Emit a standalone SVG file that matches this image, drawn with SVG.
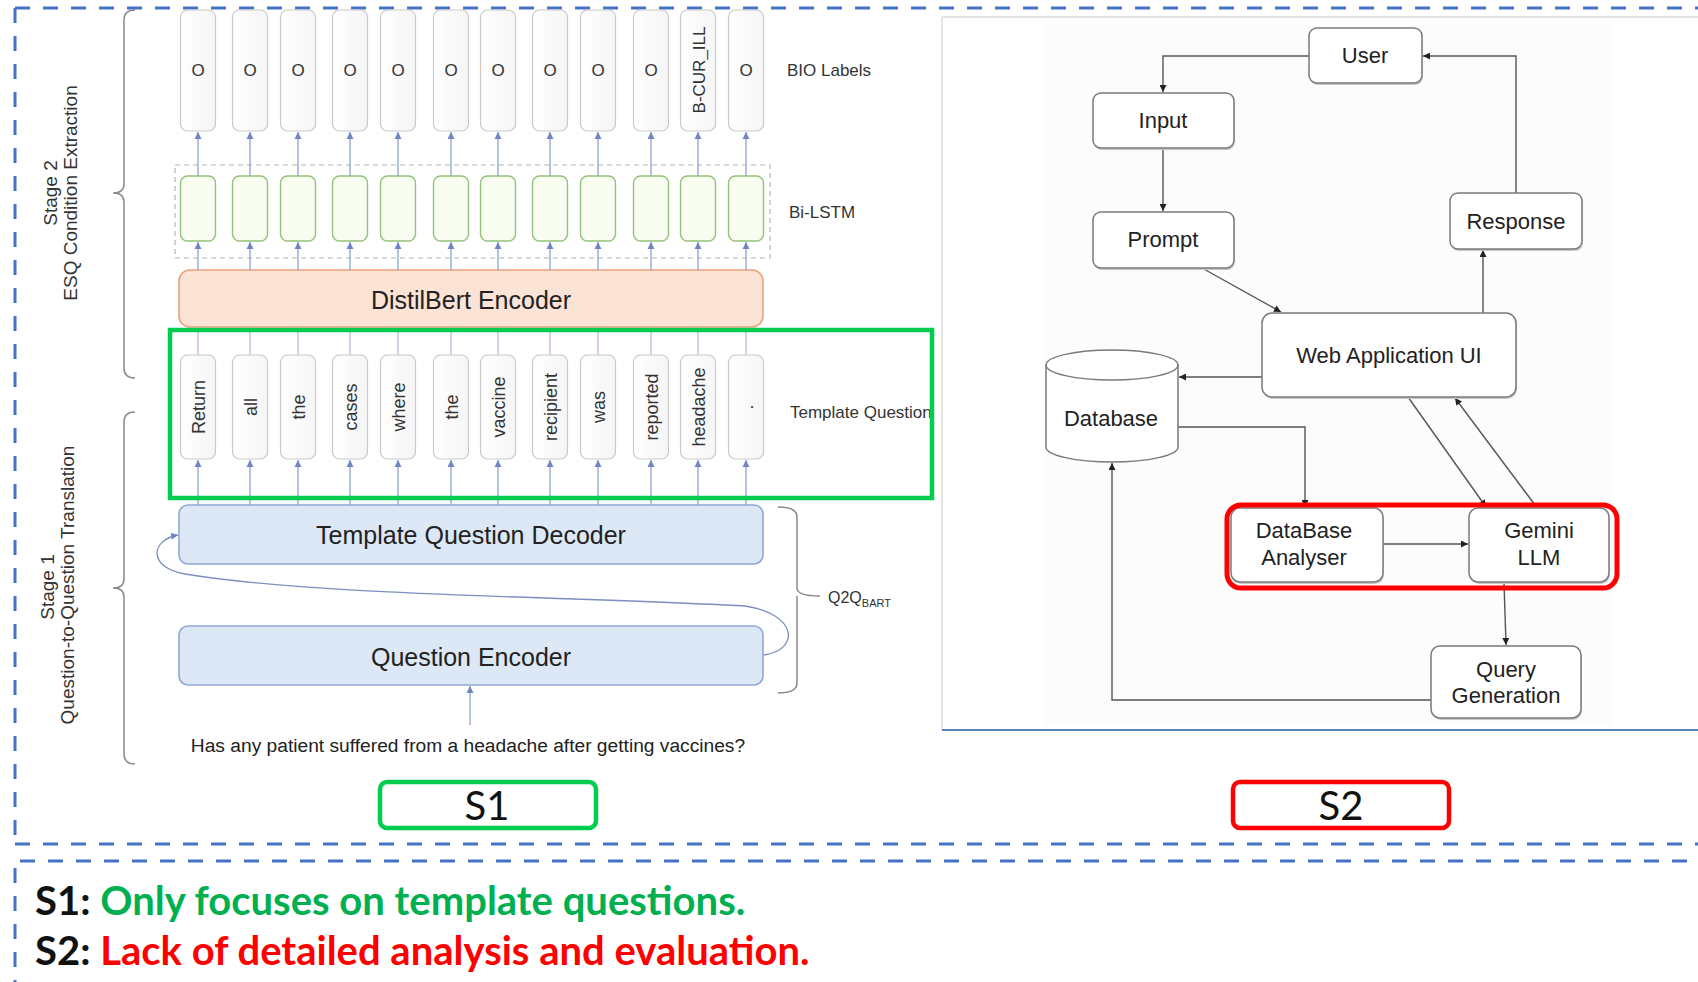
<svg xmlns="http://www.w3.org/2000/svg" width="1698" height="982" viewBox="0 0 1698 982">
  <defs>
    <style>
      .frame { fill: none; stroke: #4472C4; stroke-width: 3; stroke-dasharray: 15 13; }
      .sans { font-family: "Liberation Sans", Arial, sans-serif; }
      .cal { font-family: Lato, "Noto Sans", sans-serif; }
      .cell { fill: url(#cellFill); stroke: #c9c9c9; stroke-width: 1.2; }
      .lstm { fill: #f8fcf1; stroke: #93c27a; stroke-width: 1.4; }
      .tok { font-size: 18px; fill: #333; text-anchor: middle; }
      .bio { font-size: 17px; fill: #333; text-anchor: middle; }
      .side { font-size: 17px; fill: #333; }
      .stage { font-size: 19px; fill: #333; text-anchor: middle; }
      .bar { fill: #dce8f6; stroke: #8ea9d4; stroke-width: 1.6; }
      .barText { font-size: 25px; fill: #222; text-anchor: middle; }
      .brace { fill: none; stroke: #8a8a8a; stroke-width: 1.5; }
      .up { stroke: #8fa2d0; stroke-width: 1.3; marker-end: url(#arrBlue); }
      .tie { stroke: #b3bfdc; stroke-width: 1.3; }
      .flow { fill: none; stroke: #555; stroke-width: 1.4; marker-end: url(#arrDark); }
      .node { fill: #fff; stroke: #7a7a7a; stroke-width: 1.5; }
      .nodeShadow { fill: #c8c8c8; }
      .nodeText { font-size: 22px; fill: #222; text-anchor: middle; }
      .tag { fill: #fff; stroke-width: 4.5; }
    </style>
    <linearGradient id="cellFill" x1="0" y1="0" x2="1" y2="0">
      <stop offset="0" stop-color="#ffffff"/>
      <stop offset="1" stop-color="#f5f5f5"/>
    </linearGradient>
    <marker id="arrBlue" viewBox="0 0 10 10" refX="10" refY="5" markerWidth="7" markerHeight="8" markerUnits="userSpaceOnUse" orient="auto">
      <path d="M0,0 L10,5 L0,10 z" fill="#6f86c2"/>
    </marker>
    <marker id="arrDark" viewBox="0 0 10 10" refX="10" refY="5" markerWidth="8" markerHeight="7" markerUnits="userSpaceOnUse" orient="auto">
      <path d="M0,0 L10,5 L0,10 z" fill="#222"/>
    </marker>
  </defs>

  <rect width="1698" height="982" fill="#ffffff"/>

  <!-- dashed frames -->
  <g id="frames">
    <line class="frame" x1="15" y1="8" x2="1698" y2="8"/>
    <line class="frame" x1="15" y1="8" x2="15" y2="843"/>
    <line class="frame" x1="15" y1="844" x2="1698" y2="844"/>
    <line class="frame" x1="20" y1="861" x2="1698" y2="861"/>
    <line class="frame" x1="15" y1="868" x2="15" y2="982"/>
  </g>

  <!-- ================= left pipeline ================= -->
  <g id="stage-labels" class="sans">
    <path class="brace" d="M135,10 Q124,10 124,20 V184 Q124,193 113,193 Q124,193 124,202 V368 Q124,378 135,378"/>
    <text class="stage" transform="translate(57,193) rotate(-90)">Stage 2</text>
    <text class="stage" transform="translate(77,193) rotate(-90)">ESQ Condition Extraction</text>
    <path class="brace" d="M135,412 Q124,412 124,422 V579 Q124,588 113,588 Q124,588 124,597 V754 Q124,764 135,764"/>
    <text class="stage" transform="translate(54,587) rotate(-90)">Stage 1</text>
    <text class="stage" transform="translate(74,585) rotate(-90)">Question-to-Question Translation</text>
  </g>

  <g id="bio-labels" class="sans">
    <rect class="cell" x="180.5" y="10" width="35" height="121" rx="7"/>
    <rect class="cell" x="232.5" y="10" width="35" height="121" rx="7"/>
    <rect class="cell" x="280.5" y="10" width="35" height="121" rx="7"/>
    <rect class="cell" x="332.5" y="10" width="35" height="121" rx="7"/>
    <rect class="cell" x="380.5" y="10" width="35" height="121" rx="7"/>
    <rect class="cell" x="433.5" y="10" width="35" height="121" rx="7"/>
    <rect class="cell" x="480.5" y="10" width="35" height="121" rx="7"/>
    <rect class="cell" x="532.5" y="10" width="35" height="121" rx="7"/>
    <rect class="cell" x="580.5" y="10" width="35" height="121" rx="7"/>
    <rect class="cell" x="633.5" y="10" width="35" height="121" rx="7"/>
    <rect class="cell" x="680.5" y="10" width="35" height="121" rx="7"/>
    <rect class="cell" x="728.5" y="10" width="35" height="121" rx="7"/>
    <text class="bio" x="198" y="76">O</text>
    <text class="bio" x="250" y="76">O</text>
    <text class="bio" x="298" y="76">O</text>
    <text class="bio" x="350" y="76">O</text>
    <text class="bio" x="398" y="76">O</text>
    <text class="bio" x="451" y="76">O</text>
    <text class="bio" x="498" y="76">O</text>
    <text class="bio" x="550" y="76">O</text>
    <text class="bio" x="598" y="76">O</text>
    <text class="bio" x="651" y="76">O</text>
    <text class="bio" transform="translate(705,70) rotate(-90)">B-CUR_ILL</text>
    <text class="bio" x="746" y="76">O</text>
    <text class="side" x="787" y="76">BIO Labels</text>
  </g>

  <g id="bi-lstm" class="sans">
    <rect x="175" y="165" width="595" height="93" fill="none" stroke="#b4b4b4" stroke-width="1.2" stroke-dasharray="5 4"/>
    <rect class="lstm" x="180.5" y="176" width="35" height="65" rx="7"/>
    <rect class="lstm" x="232.5" y="176" width="35" height="65" rx="7"/>
    <rect class="lstm" x="280.5" y="176" width="35" height="65" rx="7"/>
    <rect class="lstm" x="332.5" y="176" width="35" height="65" rx="7"/>
    <rect class="lstm" x="380.5" y="176" width="35" height="65" rx="7"/>
    <rect class="lstm" x="433.5" y="176" width="35" height="65" rx="7"/>
    <rect class="lstm" x="480.5" y="176" width="35" height="65" rx="7"/>
    <rect class="lstm" x="532.5" y="176" width="35" height="65" rx="7"/>
    <rect class="lstm" x="580.5" y="176" width="35" height="65" rx="7"/>
    <rect class="lstm" x="633.5" y="176" width="35" height="65" rx="7"/>
    <rect class="lstm" x="680.5" y="176" width="35" height="65" rx="7"/>
    <rect class="lstm" x="728.5" y="176" width="35" height="65" rx="7"/>
    <text class="side" x="789" y="218">Bi-LSTM</text>
  </g>

  <g id="distilbert-encoder" class="sans">
    <rect x="179" y="270" width="584" height="57" rx="11" fill="#fbe3d5" stroke="#e9a27c" stroke-width="1.6"/>
    <text class="barText" x="471" y="309">DistilBert Encoder</text>
  </g>

  <g id="template-question" class="sans">
    <rect class="cell" x="180.5" y="355" width="35" height="104" rx="7"/>
    <rect class="cell" x="232.5" y="355" width="35" height="104" rx="7"/>
    <rect class="cell" x="280.5" y="355" width="35" height="104" rx="7"/>
    <rect class="cell" x="332.5" y="355" width="35" height="104" rx="7"/>
    <rect class="cell" x="380.5" y="355" width="35" height="104" rx="7"/>
    <rect class="cell" x="433.5" y="355" width="35" height="104" rx="7"/>
    <rect class="cell" x="480.5" y="355" width="35" height="104" rx="7"/>
    <rect class="cell" x="532.5" y="355" width="35" height="104" rx="7"/>
    <rect class="cell" x="580.5" y="355" width="35" height="104" rx="7"/>
    <rect class="cell" x="633.5" y="355" width="35" height="104" rx="7"/>
    <rect class="cell" x="680.5" y="355" width="35" height="104" rx="7"/>
    <rect class="cell" x="728.5" y="355" width="35" height="104" rx="7"/>
    <text class="tok" transform="translate(204.5,407) rotate(-90)">Return</text>
    <text class="tok" transform="translate(256.5,407) rotate(-90)">all</text>
    <text class="tok" transform="translate(304.5,407) rotate(-90)">the</text>
    <text class="tok" transform="translate(356.5,407) rotate(-90)">cases</text>
    <text class="tok" transform="translate(404.5,407) rotate(-90)">where</text>
    <text class="tok" transform="translate(457.5,407) rotate(-90)">the</text>
    <text class="tok" transform="translate(504.5,407) rotate(-90)">vaccine</text>
    <text class="tok" transform="translate(556.5,407) rotate(-90)">recipient</text>
    <text class="tok" transform="translate(604.5,407) rotate(-90)">was</text>
    <text class="tok" transform="translate(657.5,407) rotate(-90)">reported</text>
    <text class="tok" transform="translate(704.5,407) rotate(-90)">headache</text>
    <text class="tok" transform="translate(752.5,407) rotate(-90)">.</text>
    <text class="side" x="790" y="418">Template Question</text>
  </g>

  <g id="template-question-decoder" class="sans">
    <rect class="bar" x="179" y="505" width="584" height="59" rx="9"/>
    <text class="barText" x="471" y="544">Template Question Decoder</text>
  </g>

  <g id="question-encoder" class="sans">
    <rect class="bar" x="179" y="626" width="584" height="59" rx="9"/>
    <text class="barText" x="471" y="666">Question Encoder</text>
  </g>

  <g id="input-question" class="sans">
    <text x="468" y="752" font-size="19.2" fill="#222" text-anchor="middle">Has any patient suffered from a headache after getting vaccines?</text>
  </g>

  <g id="q2q-bart" class="sans">
    <path class="brace" d="M778,507 Q797,507 797,517 V588 Q797,596 820,596 M797,596 Q797,604 797,612 V683 Q797,693 778,693"/>
    <text x="828" y="603" font-size="16" fill="#333">Q2Q<tspan font-size="11" dy="4">BART</tspan></text>
  </g>

  <!-- connectors of the left pipeline -->
  <g id="pipeline-connectors">
    <g>
      <line class="up" x1="198" y1="176" x2="198" y2="132"/>
      <line class="up" x1="250" y1="176" x2="250" y2="132"/>
      <line class="up" x1="298" y1="176" x2="298" y2="132"/>
      <line class="up" x1="350" y1="176" x2="350" y2="132"/>
      <line class="up" x1="398" y1="176" x2="398" y2="132"/>
      <line class="up" x1="451" y1="176" x2="451" y2="132"/>
      <line class="up" x1="498" y1="176" x2="498" y2="132"/>
      <line class="up" x1="550" y1="176" x2="550" y2="132"/>
      <line class="up" x1="598" y1="176" x2="598" y2="132"/>
      <line class="up" x1="651" y1="176" x2="651" y2="132"/>
      <line class="up" x1="698" y1="176" x2="698" y2="132"/>
      <line class="up" x1="746" y1="176" x2="746" y2="132"/>
    </g>
    <g>
      <line class="up" x1="198" y1="270" x2="198" y2="242"/>
      <line class="up" x1="250" y1="270" x2="250" y2="242"/>
      <line class="up" x1="298" y1="270" x2="298" y2="242"/>
      <line class="up" x1="350" y1="270" x2="350" y2="242"/>
      <line class="up" x1="398" y1="270" x2="398" y2="242"/>
      <line class="up" x1="451" y1="270" x2="451" y2="242"/>
      <line class="up" x1="498" y1="270" x2="498" y2="242"/>
      <line class="up" x1="550" y1="270" x2="550" y2="242"/>
      <line class="up" x1="598" y1="270" x2="598" y2="242"/>
      <line class="up" x1="651" y1="270" x2="651" y2="242"/>
      <line class="up" x1="698" y1="270" x2="698" y2="242"/>
      <line class="up" x1="746" y1="270" x2="746" y2="242"/>
    </g>
    <g>
      <line class="tie" x1="198" y1="355" x2="198" y2="327"/>
      <line class="tie" x1="250" y1="355" x2="250" y2="327"/>
      <line class="tie" x1="298" y1="355" x2="298" y2="327"/>
      <line class="tie" x1="350" y1="355" x2="350" y2="327"/>
      <line class="tie" x1="398" y1="355" x2="398" y2="327"/>
      <line class="tie" x1="451" y1="355" x2="451" y2="327"/>
      <line class="tie" x1="498" y1="355" x2="498" y2="327"/>
      <line class="tie" x1="550" y1="355" x2="550" y2="327"/>
      <line class="tie" x1="598" y1="355" x2="598" y2="327"/>
      <line class="tie" x1="651" y1="355" x2="651" y2="327"/>
      <line class="tie" x1="698" y1="355" x2="698" y2="327"/>
      <line class="tie" x1="746" y1="355" x2="746" y2="327"/>
    </g>
    <g>
      <line class="up" x1="198" y1="505" x2="198" y2="460"/>
      <line class="up" x1="250" y1="505" x2="250" y2="460"/>
      <line class="up" x1="298" y1="505" x2="298" y2="460"/>
      <line class="up" x1="350" y1="505" x2="350" y2="460"/>
      <line class="up" x1="398" y1="505" x2="398" y2="460"/>
      <line class="up" x1="451" y1="505" x2="451" y2="460"/>
      <line class="up" x1="498" y1="505" x2="498" y2="460"/>
      <line class="up" x1="550" y1="505" x2="550" y2="460"/>
      <line class="up" x1="598" y1="505" x2="598" y2="460"/>
      <line class="up" x1="651" y1="505" x2="651" y2="460"/>
      <line class="up" x1="698" y1="505" x2="698" y2="460"/>
      <line class="up" x1="746" y1="505" x2="746" y2="460"/>
    </g>
    <line class="up" x1="470" y1="725" x2="470" y2="686"/>
    <path fill="none" stroke="#7d8fc0" stroke-width="1.3" marker-end="url(#arrBlue)" d="M764,655 C800,650 798,614 745,606 C560,596 320,596 185,574 C148,568 150,540 178,535"/>
  </g>

  <!-- highlight frame around the template question row -->
  <rect id="s1-highlight" x="170" y="330" width="762" height="168" fill="none" stroke="#00CC50" stroke-width="4.5"/>

  <!-- ================= right architecture ================= -->
  <g id="arch-panel">
    <rect x="1045" y="25" width="566" height="700" fill="#fcfcfc"/>
    <line x1="942" y1="17" x2="1698" y2="17" stroke="#dddddd" stroke-width="1.5"/>
    <line x1="942" y1="17" x2="942" y2="730" stroke="#dddddd" stroke-width="1.5"/>
    <line x1="942" y1="730" x2="1698" y2="730" stroke="#5a82b8" stroke-width="2"/>
  </g>

  <g id="arch-connectors">
    <path class="flow" d="M1309,56 H1163 V92"/>
    <path class="flow" d="M1163,148 V211"/>
    <path class="flow" d="M1202,268 L1281,312"/>
    <path class="flow" d="M1483,313 V250"/>
    <path class="flow" d="M1516,193 V56 H1423"/>
    <path class="flow" d="M1262,377 H1179"/>
    <path class="flow" d="M1178,427 H1305 V507"/>
    <path class="flow" d="M1383,544 H1468"/>
    <path class="flow" d="M1408,397 L1486,507"/>
    <path class="flow" d="M1535,505 L1455,398"/>
    <path class="flow" d="M1504,582 L1506,645"/>
    <path class="flow" d="M1431,700 H1112 V463"/>
  </g>

  <g id="node-user" class="sans">
    <rect class="nodeShadow" x="1310" y="30" width="113" height="55" rx="8"/>
    <rect class="node" x="1309" y="28" width="113" height="55" rx="8"/>
    <text class="nodeText" x="1365" y="63">User</text>
  </g>
  <g id="node-input" class="sans">
    <rect class="nodeShadow" x="1094" y="95" width="141" height="55" rx="8"/>
    <rect class="node" x="1093" y="93" width="141" height="55" rx="8"/>
    <text class="nodeText" x="1163" y="128">Input</text>
  </g>
  <g id="node-prompt" class="sans">
    <rect class="nodeShadow" x="1094" y="214" width="141" height="56" rx="8"/>
    <rect class="node" x="1093" y="212" width="141" height="56" rx="8"/>
    <text class="nodeText" x="1163" y="247">Prompt</text>
  </g>
  <g id="node-response" class="sans">
    <rect class="nodeShadow" x="1451" y="195" width="132" height="56" rx="8"/>
    <rect class="node" x="1450" y="193" width="132" height="56" rx="8"/>
    <text class="nodeText" x="1516" y="229">Response</text>
  </g>
  <g id="node-webapp" class="sans">
    <rect class="nodeShadow" x="1263" y="315" width="254" height="84" rx="10"/>
    <rect class="node" x="1262" y="313" width="254" height="84" rx="10"/>
    <text class="nodeText" x="1389" y="363">Web Application UI</text>
  </g>
  <g id="node-database" class="sans">
    <path d="M1046,365 V447 A66,15 0 0 0 1178,447 V365" fill="#fff" stroke="#7a7a7a" stroke-width="1.5"/>
    <ellipse cx="1112" cy="365" rx="66" ry="15" fill="#fff" stroke="#7a7a7a" stroke-width="1.5"/>
    <text class="nodeText" x="1111" y="426">Database</text>
  </g>
  <g id="node-analyser" class="sans">
    <rect class="nodeShadow" x="1232" y="510" width="152" height="74" rx="9"/>
    <rect class="node" x="1231" y="508" width="152" height="74" rx="9"/>
    <text class="nodeText" x="1304" y="538">DataBase</text>
    <text class="nodeText" x="1304" y="565">Analyser</text>
  </g>
  <g id="node-gemini" class="sans">
    <rect class="nodeShadow" x="1470" y="510" width="140" height="74" rx="9"/>
    <rect class="node" x="1469" y="508" width="140" height="74" rx="9"/>
    <text class="nodeText" x="1539" y="538">Gemini</text>
    <text class="nodeText" x="1539" y="565">LLM</text>
  </g>
  <g id="node-query" class="sans">
    <rect class="nodeShadow" x="1432" y="648" width="150" height="72" rx="9"/>
    <rect class="node" x="1431" y="646" width="150" height="72" rx="9"/>
    <text class="nodeText" x="1506" y="677">Query</text>
    <text class="nodeText" x="1506" y="703">Generation</text>
  </g>

  <rect id="s2-highlight" x="1227" y="505" width="390" height="83" rx="14" fill="none" stroke="#FF0000" stroke-width="5"/>

  <!-- panel tags -->
  <g id="tag-s1" class="cal">
    <rect class="tag" x="380" y="782" width="216" height="46" rx="7" stroke="#00CC50"/>
    <text x="487" y="820" font-size="40" fill="#111" text-anchor="middle">S1</text>
  </g>
  <g id="tag-s2" class="cal">
    <rect class="tag" x="1233" y="782" width="216" height="46" rx="7" stroke="#FF0000"/>
    <text x="1341" y="820" font-size="40" fill="#111" text-anchor="middle">S2</text>
  </g>

  <!-- summary notes -->
  <g id="notes" class="cal" font-weight="bold" font-size="40">
    <text x="35" y="915"><tspan fill="#111">S1:</tspan> <tspan fill="#00B050">Only focuses on template questions.</tspan></text>
    <text x="35" y="965"><tspan fill="#111">S2:</tspan> <tspan fill="#FF0000">Lack of detailed analysis and evaluation.</tspan></text>
  </g>
</svg>
